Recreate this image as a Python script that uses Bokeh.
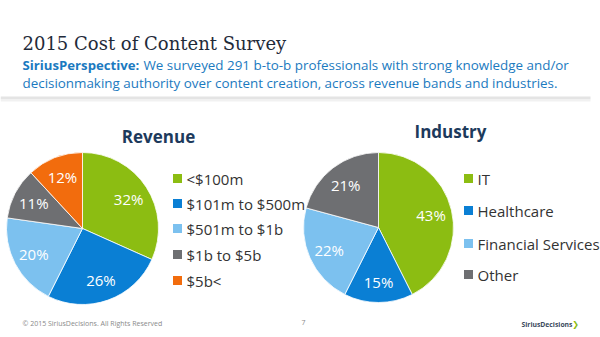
import math
from bokeh.plotting import figure
from bokeh.models import Range1d, ColumnDataSource
from bokeh.core.properties import value
from bokeh.embed import file_html
from bokeh.resources import INLINE

# ---- data ----
revenue_labels = ["<$100m", "$101m to $500m", "$501m to $1b", "$1b to $5b", "$5b<"]
revenue_values = [32, 26, 20, 11, 12]
industry_labels = ["IT", "Healthcare", "Financial Services", "Other"]
industry_values = [43, 15, 22, 21]
revenue_colors = ["#8cbd12", "#0a7fd4", "#7cc1ef", "#6e6f72", "#f26c0d"]
industry_colors = ["#8cbd12", "#0a7fd4", "#7cc1ef", "#6e6f72"]

title_text = "2015 Cost of Content Survey"
sub_bold = "SiriusPerspective:"
sub_line1 = "We surveyed 291 b-to-b professionals with strong knowledge and/or"
sub_line2 = "decisionmaking authority over content creation, across revenue bands and industries."
footer_left = "\u00a9 2015 SiriusDecisions. All Rights Reserved"
footer_page = "7"
footer_logo = "SiriusDecisions"

W, H = 600, 337
def Y(py):
    return H - py

p = figure(width=W, height=H, output_backend="svg", toolbar_location=None,
           x_range=Range1d(0, W), y_range=Range1d(0, H), min_border=0)
p.axis.visible = False
p.grid.visible = False
p.outline_line_color = None
p.background_fill_color = "white"
p.border_fill_color = "white"

OS = value("Open Sans")

# header shadow band
p.quad(left=[0], right=[590], bottom=[Y(99)], top=[Y(96)], fill_color="#e4e4e4", line_color=None)
p.quad(left=[0], right=[590], bottom=[Y(101)], top=[Y(99)], fill_color="#f1f1f1", line_color=None)

# header texts
p.text(x=[22], y=[Y(43)], text=[title_text], text_font=value("DejaVu Serif"),
       text_font_size="18px", text_color="#1f2b3a", text_baseline="middle")
p.text(x=[22], y=[Y(64)], text=[sub_bold], text_font=OS, text_font_style="bold",
       text_font_size="13.2px", text_color="#1b7ac0", text_baseline="middle")
p.text(x=[143], y=[Y(64)], text=[sub_line1], text_font=OS,
       text_font_size="13.4px", text_color="#1b7ac0", text_baseline="middle")
p.text(x=[22], y=[Y(82)], text=[sub_line2], text_font=OS,
       text_font_size="13.4px", text_color="#1b7ac0", text_baseline="middle")

def pie(cx, cy, r, vals, cols, lab_r):
    tot = float(sum(vals))
    cum = 0.0
    starts, ends, lx, ly, txt = [], [], [], [], []
    for v in vals:
        a0 = math.pi / 2 - 2 * math.pi * cum / tot
        cum += v
        a1 = math.pi / 2 - 2 * math.pi * cum / tot
        starts.append(a0)
        ends.append(a1)
        m = (a0 + a1) / 2
        lx.append(cx + lab_r * math.cos(m))
        ly.append(Y(cy) + lab_r * math.sin(m))
        txt.append(f"{v}%")
    src = ColumnDataSource(dict(start=starts, end=ends, color=cols))
    p.wedge(x=cx, y=Y(cy), radius=r, start_angle="start", end_angle="end",
            direction="clock", fill_color="color", line_color="white",
            line_width=0.8, source=src)
    p.text(x=lx, y=ly, text=txt, text_font=OS, text_font_size="15px",
           text_color="white", text_align="center", text_baseline="middle")

def legend(x, ys, labels, cols):
    p.rect(x=[x] * len(labels), y=[Y(v) for v in ys], width=9, height=9,
           fill_color=cols, line_color=None)
    p.text(x=[x + 9] * len(labels), y=[Y(v) for v in ys], text=labels, text_font=OS,
           text_font_size="15px", text_color="#333333", text_baseline="middle")

pie(82, 228, 76, revenue_values, revenue_colors, 55)
pie(378, 227, 75, industry_values, industry_colors, 54)

p.text(x=[158], y=[Y(136)], text=["Revenue"], text_font=OS, text_font_style="bold",
       text_font_size="17px", text_color="#1d3a5c", text_align="center", text_baseline="middle")
p.text(x=[450], y=[Y(131)], text=["Industry"], text_font=OS, text_font_style="bold",
       text_font_size="17px", text_color="#1d3a5c", text_align="center", text_baseline="middle")

legend(177, [178, 203, 228, 254, 280], revenue_labels, revenue_colors)
legend(468, [178, 210, 243, 274], industry_labels, industry_colors)

# footer
p.text(x=[22], y=[Y(323)], text=[footer_left], text_font=OS, text_font_size="7px",
       text_color="#8a8a8a", text_baseline="middle")
p.text(x=[303], y=[Y(322)], text=[footer_page], text_font=OS, text_font_size="7px",
       text_color="#8a8a8a", text_baseline="middle", text_align="center")
p.text(x=[521], y=[Y(324)], text=[footer_logo], text_font=OS, text_font_size="6.8px",
       text_font_style="bold", text_color="#3a4a5c", text_baseline="middle")
p.text(x=[575], y=[Y(324)], text=["\u276f"], text_font=value("DejaVu Sans"), text_font_size="8px",
       text_color="#8cbd12", text_baseline="middle", text_align="center")

open("out.html", "w").write(file_html(p, INLINE))
